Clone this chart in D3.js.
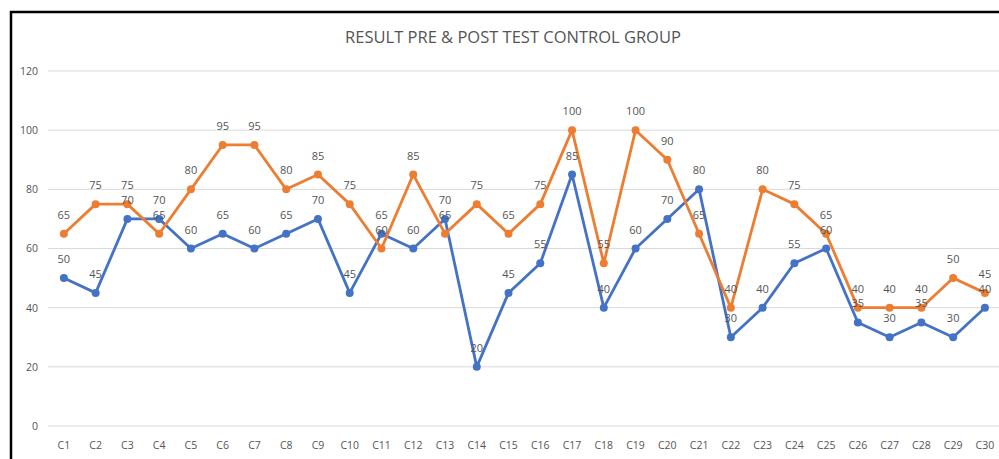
<!DOCTYPE html>
<html>
<head>
<meta charset="utf-8">
<script src="https://cdn.jsdelivr.net/npm/d3@7"></script>
<style>
  body { margin: 0; background: #fff; }
  svg { display: block; }
</style>
</head>
<body>
<svg id="chart" width="999" height="459"></svg>
<script>
// pre / post test scores, control group
const CATS = ['C1','C2','C3','C4','C5','C6','C7','C8','C9','C10','C11','C12','C13','C14','C15',
              'C16','C17','C18','C19','C20','C21','C22','C23','C24','C25','C26','C27','C28','C29','C30'];
const PRE  = [50,45,70,70,60,65,60,65,70,45,65,60,70,20,45,55,85,40,60,70,80,30,40,55,60,35,30,35,30,40];
const POST = [65,75,75,65,80,95,95,80,85,75,60,85,65,75,65,75,100,55,100,90,65,40,80,75,65,40,40,40,50,45];
const Y_TICKS = [0,20,40,60,80,100,120];

const W = 999, H = 459;
const FONT = "'Open Sans', 'Noto Sans', sans-serif";
const GREY = '#555';

const svg = d3.select('#chart');

// frame
svg.append('path')
  .attr('d', `M11,${H + 2} L11,12 L${W + 2},12`)
  .attr('fill', 'none').attr('stroke', '#000').attr('stroke-width', 2.5);

svg.append('text')
  .attr('x', 513).attr('y', 43)
  .attr('text-anchor', 'middle')
  .attr('font-family', FONT).attr('font-size', 16.5)
  .attr('fill', GREY)
  .text('RESULT PRE & POST TEST CONTROL GROUP');

const x = d3.scaleBand().domain(CATS).range([48, 48 + 30 * 31.76]);
const y = d3.scaleLinear().domain([0, 120]).range([426, 71]);

// grid
svg.append('g').selectAll('line').data(Y_TICKS).join('line')
  .attr('x1', 48).attr('x2', W)
  .attr('y1', d => y(d)).attr('y2', d => y(d))
  .attr('stroke', '#d9d9d9').attr('stroke-width', 1);

// y axis labels
const yAxis = svg.append('g')
  .attr('transform', 'translate(38,0)')
  .call(d3.axisLeft(y).tickValues(Y_TICKS).tickSize(0).tickPadding(0));
yAxis.select('.domain').remove();
yAxis.selectAll('text').attr('font-family', FONT).attr('font-size', 10.5).attr('fill', GREY);

// x axis labels
const xAxis = svg.append('g')
  .attr('transform', 'translate(0,442)')
  .call(d3.axisBottom(x).tickSize(0).tickPadding(0));
xAxis.select('.domain').remove();
xAxis.selectAll('text').attr('font-family', FONT).attr('font-size', 10.5).attr('fill', GREY);

const cx = i => x(CATS[i]) + x.bandwidth() / 2;
const line = d3.line().x((d, i) => cx(i)).y(d => y(d));

function drawSeries(vals, color) {
  const g = svg.append('g');
  g.append('path').datum(vals)
    .attr('d', line)
    .attr('fill', 'none').attr('stroke', color)
    .attr('stroke-width', 2.8).attr('stroke-linejoin', 'round');
  g.selectAll('circle').data(vals).join('circle')
    .attr('cx', (d, i) => cx(i)).attr('cy', d => y(d)).attr('r', 4)
    .attr('fill', color);
  return g;
}

drawSeries(PRE, '#4472C4');
drawSeries(POST, '#ED7D31');

// data labels above points
function drawLabels(vals) {
  svg.append('g').selectAll('text').data(vals).join('text')
    .attr('x', (d, i) => cx(i)).attr('y', d => y(d) - 15)
    .attr('text-anchor', 'middle')
    .attr('font-family', FONT).attr('font-size', 11)
    .attr('fill', GREY)
    .text(d => d);
}
drawLabels(PRE);
drawLabels(POST);
</script>
</body>
</html>
